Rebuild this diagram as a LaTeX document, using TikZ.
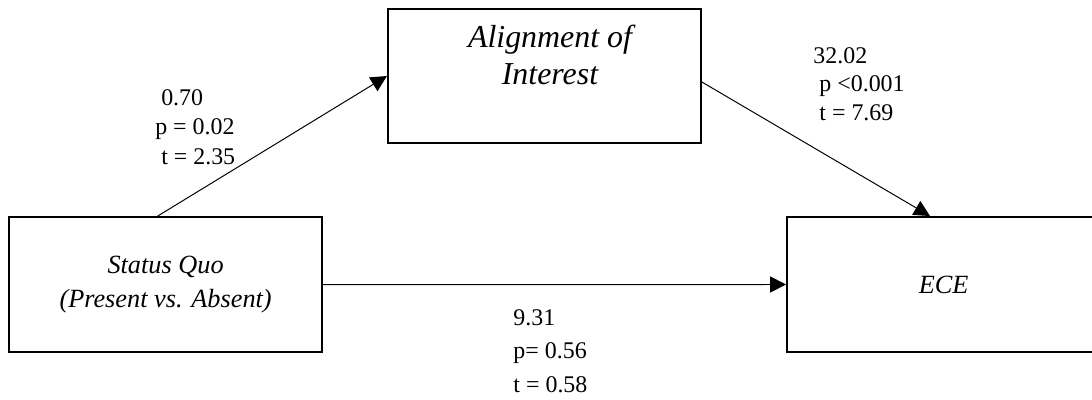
\documentclass[tikz,border=0pt]{standalone}
\usepackage{fontspec}
\setmainfont{Liberation Serif}
\usepackage{tikz}
\usetikzlibrary{arrows.meta,positioning}
\tikzset{box/.style={draw,line width=1.4pt,minimum width=7.825cm,minimum height=3.375cm,inner sep=0pt,align=center,font=\fontsize{18.7}{24}\selectfont\itshape},
         arrow/.style={line width=0.7pt,-{Triangle[length=0.4cm,width=0.4cm]}},
         stat/.style={inner sep=0pt,align=left,anchor=north west}}

\begin{document}
\begin{tikzpicture}
\useasboundingbox (0,0) rectangle (27.3,9.975);
\node[box] (sq) at (4.14,2.86) {Status Quo\\(Present vs. Absent)};
\node[box,minimum height=3.35cm] (align) at (13.61,8.075) {};
\node[box] (ece) at (23.59,2.8625) {ECE};
\node[inner sep=0pt,align=center,font=\fontsize{22.7}{26}\selectfont\itshape] (aligntext) at (13.75,8.6) {Alignment of\\Interest};
\draw[arrow] ([xshift=-0.2cm]sq.north) -- (align.west);
\draw[arrow] ([yshift=-0.15cm]align.east) -- ([xshift=-0.34cm]ece.north);
\draw[arrow] (sq.east) -- (ece.west);
\node[stat,font=\fontsize{17}{21}\selectfont] (statA) at (3.875,7.75) {\ 0.70\\p = 0.02\\\ t = 2.35};
\node[stat,font=\fontsize{17}{20.5}\selectfont] (statB) at (20.33,8.8) {32.02\\\ p <0.001\\\ t = 7.69};
\node[stat,font=\fontsize{17}{24}\selectfont] (statC) at (12.83,2.25) {9.31\\p= 0.56\\t = 0.58};
\end{tikzpicture}
\end{document}
